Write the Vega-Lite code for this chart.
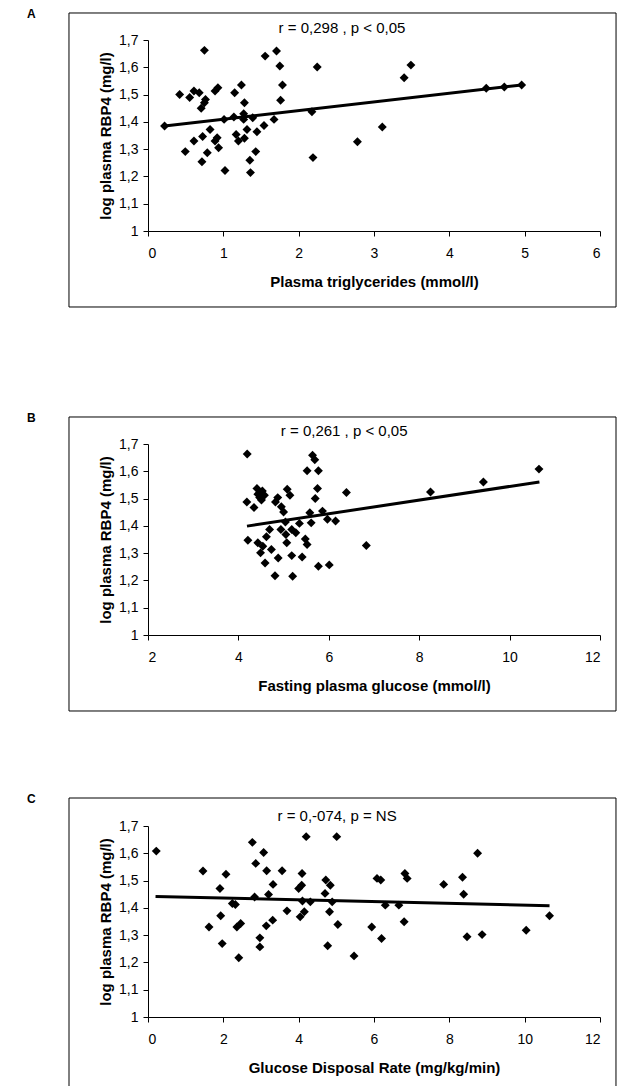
{
  "$schema": "https://vega.github.io/schema/vega-lite/v6.json",
  "background": "white",
  "padding": {"left": 26, "top": 8, "right": 0, "bottom": 0},
  "config": {
    "view": {"stroke": null},
    "axis": {
      "grid": false,
      "domainColor": "#000000",
      "tickColor": "#000000",
      "labelColor": "#000000",
      "titleColor": "#000000",
      "labelFont": "Liberation Sans",
      "labelFontSize": 14,
      "titleFont": "Liberation Sans",
      "titleFontSize": 15,
      "titleFontWeight": "bold",
      "tickSize": 5,
      "domainWidth": 1,
      "tickWidth": 1
    },
    "axisX": {"labelPadding": 10, "titlePadding": 14},
    "axisY": {"labelPadding": 5, "titlePadding": 5},
    "text": {"font": "Liberation Sans", "color": "#000000"}
  },
  "datasets": {
    "triglycerides": [
      {"x": 0.22, "y": 1.385}, {"x": 0.42, "y": 1.5}, {"x": 0.495, "y": 1.291}, {"x": 0.553, "y": 1.489},
      {"x": 0.61, "y": 1.513}, {"x": 0.61, "y": 1.33}, {"x": 0.68, "y": 1.507}, {"x": 0.706, "y": 1.45},
      {"x": 0.716, "y": 1.254}, {"x": 0.725, "y": 1.346}, {"x": 0.749, "y": 1.662}, {"x": 0.749, "y": 1.47},
      {"x": 0.763, "y": 1.482}, {"x": 0.787, "y": 1.287}, {"x": 0.824, "y": 1.372}, {"x": 0.89, "y": 1.513},
      {"x": 0.89, "y": 1.33}, {"x": 0.928, "y": 1.525}, {"x": 0.918, "y": 1.342}, {"x": 0.937, "y": 1.305},
      {"x": 1.022, "y": 1.222}, {"x": 1.01, "y": 1.409}, {"x": 1.15, "y": 1.507}, {"x": 1.14, "y": 1.418},
      {"x": 1.17, "y": 1.354}, {"x": 1.2, "y": 1.33}, {"x": 1.24, "y": 1.535}, {"x": 1.27, "y": 1.43},
      {"x": 1.28, "y": 1.47}, {"x": 1.27, "y": 1.409}, {"x": 1.28, "y": 1.34}, {"x": 1.314, "y": 1.372},
      {"x": 1.352, "y": 1.259}, {"x": 1.36, "y": 1.214}, {"x": 1.39, "y": 1.415}, {"x": 1.43, "y": 1.291},
      {"x": 1.446, "y": 1.364}, {"x": 1.54, "y": 1.387}, {"x": 1.555, "y": 1.641}, {"x": 1.673, "y": 1.409},
      {"x": 1.706, "y": 1.66}, {"x": 1.75, "y": 1.605}, {"x": 1.76, "y": 1.479}, {"x": 1.785, "y": 1.535},
      {"x": 2.176, "y": 1.437}, {"x": 2.19, "y": 1.269}, {"x": 2.246, "y": 1.601}, {"x": 2.78, "y": 1.327},
      {"x": 3.11, "y": 1.381}, {"x": 3.4, "y": 1.562}, {"x": 3.49, "y": 1.608}, {"x": 4.49, "y": 1.523},
      {"x": 4.73, "y": 1.528}, {"x": 4.96, "y": 1.535}
    ],
    "glucose": [
      {"x": 4.195, "y": 1.663}, {"x": 4.187, "y": 1.4875}, {"x": 4.21, "y": 1.3475}, {"x": 4.345, "y": 1.467},
      {"x": 4.41, "y": 1.537}, {"x": 4.43, "y": 1.516}, {"x": 4.43, "y": 1.338}, {"x": 4.47, "y": 1.5035},
      {"x": 4.49, "y": 1.301}, {"x": 4.51, "y": 1.495}, {"x": 4.53, "y": 1.528}, {"x": 4.54, "y": 1.325},
      {"x": 4.575, "y": 1.512}, {"x": 4.59, "y": 1.264}, {"x": 4.62, "y": 1.36}, {"x": 4.69, "y": 1.387},
      {"x": 4.73, "y": 1.313}, {"x": 4.81, "y": 1.217}, {"x": 4.82, "y": 1.4875}, {"x": 4.88, "y": 1.282},
      {"x": 4.87, "y": 1.5035}, {"x": 4.94, "y": 1.387}, {"x": 4.95, "y": 1.47}, {"x": 5.0, "y": 1.451},
      {"x": 5.04, "y": 1.414}, {"x": 5.05, "y": 1.368}, {"x": 5.07, "y": 1.338}, {"x": 5.08, "y": 1.534},
      {"x": 5.14, "y": 1.512}, {"x": 5.18, "y": 1.291}, {"x": 5.18, "y": 1.387}, {"x": 5.2, "y": 1.215},
      {"x": 5.27, "y": 1.375}, {"x": 5.35, "y": 1.409}, {"x": 5.41, "y": 1.286}, {"x": 5.48, "y": 1.352},
      {"x": 5.52, "y": 1.602}, {"x": 5.52, "y": 1.332}, {"x": 5.58, "y": 1.448}, {"x": 5.61, "y": 1.411},
      {"x": 5.64, "y": 1.659}, {"x": 5.69, "y": 1.642}, {"x": 5.7, "y": 1.5}, {"x": 5.75, "y": 1.537},
      {"x": 5.77, "y": 1.602}, {"x": 5.77, "y": 1.252}, {"x": 5.86, "y": 1.454}, {"x": 5.97, "y": 1.424},
      {"x": 6.01, "y": 1.257}, {"x": 6.15, "y": 1.4175}, {"x": 6.39, "y": 1.522}, {"x": 6.83, "y": 1.328},
      {"x": 8.25, "y": 1.524}, {"x": 9.42, "y": 1.561}, {"x": 10.65, "y": 1.608}
    ],
    "gdr": [
      {"x": 0.22, "y": 1.608}, {"x": 1.46, "y": 1.535}, {"x": 1.62, "y": 1.33}, {"x": 1.91, "y": 1.471},
      {"x": 1.93, "y": 1.371}, {"x": 1.97, "y": 1.269}, {"x": 2.07, "y": 1.523}, {"x": 2.24, "y": 1.416},
      {"x": 2.32, "y": 1.412}, {"x": 2.36, "y": 1.33}, {"x": 2.46, "y": 1.343}, {"x": 2.41, "y": 1.217},
      {"x": 2.77, "y": 1.64}, {"x": 2.83, "y": 1.44}, {"x": 2.86, "y": 1.563}, {"x": 2.97, "y": 1.29},
      {"x": 2.97, "y": 1.257}, {"x": 3.07, "y": 1.603}, {"x": 3.14, "y": 1.334}, {"x": 3.15, "y": 1.536},
      {"x": 3.2, "y": 1.449}, {"x": 3.31, "y": 1.355}, {"x": 3.32, "y": 1.486}, {"x": 3.56, "y": 1.536},
      {"x": 3.69, "y": 1.389}, {"x": 4.0, "y": 1.471}, {"x": 4.04, "y": 1.367}, {"x": 4.09, "y": 1.526},
      {"x": 4.08, "y": 1.483}, {"x": 4.1, "y": 1.425}, {"x": 4.15, "y": 1.386}, {"x": 4.2, "y": 1.661},
      {"x": 4.31, "y": 1.422}, {"x": 4.7, "y": 1.453}, {"x": 4.72, "y": 1.502}, {"x": 4.77, "y": 1.261},
      {"x": 4.82, "y": 1.386}, {"x": 4.84, "y": 1.483}, {"x": 4.89, "y": 1.422}, {"x": 5.01, "y": 1.661},
      {"x": 5.04, "y": 1.339}, {"x": 5.47, "y": 1.224}, {"x": 5.94, "y": 1.33}, {"x": 6.08, "y": 1.508},
      {"x": 6.18, "y": 1.502}, {"x": 6.2, "y": 1.288}, {"x": 6.3, "y": 1.41}, {"x": 6.66, "y": 1.41},
      {"x": 6.8, "y": 1.349}, {"x": 6.82, "y": 1.526}, {"x": 6.88, "y": 1.508}, {"x": 7.85, "y": 1.486},
      {"x": 8.35, "y": 1.512}, {"x": 8.38, "y": 1.45}, {"x": 8.47, "y": 1.294}, {"x": 8.75, "y": 1.6},
      {"x": 8.87, "y": 1.302}, {"x": 10.04, "y": 1.318}, {"x": 10.66, "y": 1.371}
    ],
    "trendA": [{"x": 0.22, "y": 1.385}, {"x": 4.96, "y": 1.535}],
    "trendB": [{"x": 4.19, "y": 1.399}, {"x": 10.66, "y": 1.561}],
    "trendC": [{"x": 0.2, "y": 1.442}, {"x": 10.66, "y": 1.408}]
  },
  "bounds": "flush",
  "spacing": 213,
  "vconcat": [
    {
      "width": 452,
      "height": 191,
      "layer": [
        {
          "data": {"name": "triglycerides"},
          "mark": {"type": "point", "shape": "diamond", "filled": true, "color": "#000000", "size": 80, "opacity": 1},
          "encoding": {
            "x": {"field": "x", "type": "quantitative", "scale": {"domain": [0, 6], "nice": false, "zero": false},
              "axis": {"values": [0, 1, 2, 3, 4, 5, 6], "format": "~f", "title": "Plasma triglycerides (mmol/l)"}},
            "y": {"field": "y", "type": "quantitative", "scale": {"domain": [1, 1.7], "nice": false, "zero": false},
              "axis": {"values": [1, 1.1, 1.2, 1.3, 1.4, 1.5, 1.6, 1.7], "format": ".1~f", "labelExpr": "replace(datum.label, '.', ',')", "title": "log plasma RBP4 (mg/l)"}}
          }
        },
        {
          "data": {"values": [{}]},
          "mark": {"type": "rect", "filled": false, "stroke": "#000000", "strokeWidth": 1},
          "encoding": {
            "x": {"datum": -1.049, "type": "quantitative", "scale": {"domain": [0, 6], "nice": false, "zero": false},
              "axis": {"values": [0, 1, 2, 3, 4, 5, 6], "format": "~f", "title": "Plasma triglycerides (mmol/l)"}},
            "x2": {"datum": 6.213},
            "y": {"datum": 1.799, "type": "quantitative", "scale": {"domain": [1, 1.7], "nice": false, "zero": false},
              "axis": {"values": [1, 1.1, 1.2, 1.3, 1.4, 1.5, 1.6, 1.7], "format": ".1~f", "labelExpr": "replace(datum.label, '.', ',')", "title": "log plasma RBP4 (mg/l)"}},
            "y2": {"datum": 0.7215}
          }
        },
        {
          "data": {"name": "trendA"},
          "mark": {"type": "line", "color": "#000000", "strokeWidth": 3},
          "encoding": {
            "x": {"field": "x", "type": "quantitative", "scale": {"domain": [0, 6], "nice": false, "zero": false},
              "axis": {"values": [0, 1, 2, 3, 4, 5, 6], "format": "~f", "title": "Plasma triglycerides (mmol/l)"}},
            "y": {"field": "y", "type": "quantitative", "scale": {"domain": [1, 1.7], "nice": false, "zero": false},
              "axis": {"values": [1, 1.1, 1.2, 1.3, 1.4, 1.5, 1.6, 1.7], "format": ".1~f", "labelExpr": "replace(datum.label, '.', ',')", "title": "log plasma RBP4 (mg/l)"}}
          }
        },
        {
          "data": {"values": [{}]},
          "mark": {"type": "text", "text": "r = 0,298 , p < 0,05", "fontSize": 15, "align": "center", "baseline": "middle"},
          "encoding": {
            "x": {"datum": 2.575, "type": "quantitative", "scale": {"domain": [0, 6], "nice": false, "zero": false},
              "axis": {"values": [0, 1, 2, 3, 4, 5, 6], "format": "~f", "title": "Plasma triglycerides (mmol/l)"}},
            "y": {"datum": 1.744, "type": "quantitative", "scale": {"domain": [1, 1.7], "nice": false, "zero": false},
              "axis": {"values": [1, 1.1, 1.2, 1.3, 1.4, 1.5, 1.6, 1.7], "format": ".1~f", "labelExpr": "replace(datum.label, '.', ',')", "title": "log plasma RBP4 (mg/l)"}}
          }
        },
        {
          "data": {"values": [{}]},
          "mark": {"type": "text", "text": "A", "fontSize": 12, "fontWeight": "bold", "align": "left", "baseline": "top"},
          "encoding": {
            "x": {"datum": -1.606, "type": "quantitative", "scale": {"domain": [0, 6], "nice": false, "zero": false},
              "axis": {"values": [0, 1, 2, 3, 4, 5, 6], "format": "~f", "title": "Plasma triglycerides (mmol/l)"}},
            "y": {"datum": 1.8136, "type": "quantitative", "scale": {"domain": [1, 1.7], "nice": false, "zero": false},
              "axis": {"values": [1, 1.1, 1.2, 1.3, 1.4, 1.5, 1.6, 1.7], "format": ".1~f", "labelExpr": "replace(datum.label, '.', ',')", "title": "log plasma RBP4 (mg/l)"}}
          }
        }
      ]
    },
    {
      "bounds": "flush",
      "spacing": 191,
      "vconcat": [
        {
          "width": 452,
          "height": 191,
          "layer": [
            {
              "data": {"name": "glucose"},
              "mark": {"type": "point", "shape": "diamond", "filled": true, "color": "#000000", "size": 80, "opacity": 1},
              "encoding": {
                "x": {"field": "x", "type": "quantitative", "scale": {"domain": [2, 12], "nice": false, "zero": false},
                  "axis": {"values": [2, 4, 6, 8, 10, 12], "format": "~f", "title": "Fasting plasma glucose (mmol/l)"}},
                "y": {"field": "y", "type": "quantitative", "scale": {"domain": [1, 1.7], "nice": false, "zero": false},
                  "axis": {"values": [1, 1.1, 1.2, 1.3, 1.4, 1.5, 1.6, 1.7], "format": ".1~f", "labelExpr": "replace(datum.label, '.', ',')", "title": "log plasma RBP4 (mg/l)"}}
              }
            },
            {
              "data": {"values": [{}]},
              "mark": {"type": "rect", "filled": false, "stroke": "#000000", "strokeWidth": 1},
              "encoding": {
                "x": {"datum": 0.252, "type": "quantitative", "scale": {"domain": [2, 12], "nice": false, "zero": false},
                  "axis": {"values": [2, 4, 6, 8, 10, 12], "format": "~f", "title": "Fasting plasma glucose (mmol/l)"}},
                "x2": {"datum": 12.354},
                "y": {"datum": 1.799, "type": "quantitative", "scale": {"domain": [1, 1.7], "nice": false, "zero": false},
                  "axis": {"values": [1, 1.1, 1.2, 1.3, 1.4, 1.5, 1.6, 1.7], "format": ".1~f", "labelExpr": "replace(datum.label, '.', ',')", "title": "log plasma RBP4 (mg/l)"}},
                "y2": {"datum": 0.7215}
              }
            },
            {
              "data": {"name": "trendB"},
              "mark": {"type": "line", "color": "#000000", "strokeWidth": 3},
              "encoding": {
                "x": {"field": "x", "type": "quantitative", "scale": {"domain": [2, 12], "nice": false, "zero": false},
                  "axis": {"values": [2, 4, 6, 8, 10, 12], "format": "~f", "title": "Fasting plasma glucose (mmol/l)"}},
                "y": {"field": "y", "type": "quantitative", "scale": {"domain": [1, 1.7], "nice": false, "zero": false},
                  "axis": {"values": [1, 1.1, 1.2, 1.3, 1.4, 1.5, 1.6, 1.7], "format": ".1~f", "labelExpr": "replace(datum.label, '.', ',')", "title": "log plasma RBP4 (mg/l)"}}
              }
            },
            {
              "data": {"values": [{}]},
              "mark": {"type": "text", "text": "r = 0,261 , p < 0,05", "fontSize": 15, "align": "center", "baseline": "middle"},
              "encoding": {
                "x": {"datum": 6.34, "type": "quantitative", "scale": {"domain": [2, 12], "nice": false, "zero": false},
                  "axis": {"values": [2, 4, 6, 8, 10, 12], "format": "~f", "title": "Fasting plasma glucose (mmol/l)"}},
                "y": {"datum": 1.748, "type": "quantitative", "scale": {"domain": [1, 1.7], "nice": false, "zero": false},
                  "axis": {"values": [1, 1.1, 1.2, 1.3, 1.4, 1.5, 1.6, 1.7], "format": ".1~f", "labelExpr": "replace(datum.label, '.', ',')", "title": "log plasma RBP4 (mg/l)"}}
              }
            },
            {
              "data": {"values": [{}]},
              "mark": {"type": "text", "text": "B", "fontSize": 12, "fontWeight": "bold", "align": "left", "baseline": "top"},
              "encoding": {
                "x": {"datum": -0.677, "type": "quantitative", "scale": {"domain": [2, 12], "nice": false, "zero": false},
                  "axis": {"values": [2, 4, 6, 8, 10, 12], "format": "~f", "title": "Fasting plasma glucose (mmol/l)"}},
                "y": {"datum": 1.8136, "type": "quantitative", "scale": {"domain": [1, 1.7], "nice": false, "zero": false},
                  "axis": {"values": [1, 1.1, 1.2, 1.3, 1.4, 1.5, 1.6, 1.7], "format": ".1~f", "labelExpr": "replace(datum.label, '.', ',')", "title": "log plasma RBP4 (mg/l)"}}
              }
            }
          ]
        },
        {
          "width": 452,
          "height": 191,
          "layer": [
            {
              "data": {"name": "gdr"},
              "mark": {"type": "point", "shape": "diamond", "filled": true, "color": "#000000", "size": 80, "opacity": 1},
              "encoding": {
                "x": {"field": "x", "type": "quantitative", "scale": {"domain": [0, 12], "nice": false, "zero": false},
                  "axis": {"values": [0, 2, 4, 6, 8, 10, 12], "format": "~f", "title": "Glucose Disposal Rate (mg/kg/min)"}},
                "y": {"field": "y", "type": "quantitative", "scale": {"domain": [1, 1.7], "nice": false, "zero": false},
                  "axis": {"values": [1, 1.1, 1.2, 1.3, 1.4, 1.5, 1.6, 1.7], "format": ".1~f", "labelExpr": "replace(datum.label, '.', ',')", "title": "log plasma RBP4 (mg/l)"}}
              }
            },
            {
              "data": {"values": [{}]},
              "mark": {"type": "rule", "color": "#000000", "strokeWidth": 1},
              "encoding": {
                "x": {"datum": -2.097, "type": "quantitative", "scale": {"domain": [0, 12], "nice": false, "zero": false},
                  "axis": {"values": [0, 2, 4, 6, 8, 10, 12], "format": "~f", "title": "Glucose Disposal Rate (mg/kg/min)"}},
                "x2": {"datum": 12.424},
                "y": {"datum": 1.8026, "type": "quantitative", "scale": {"domain": [1, 1.7], "nice": false, "zero": false},
                  "axis": {"values": [1, 1.1, 1.2, 1.3, 1.4, 1.5, 1.6, 1.7], "format": ".1~f", "labelExpr": "replace(datum.label, '.', ',')", "title": "log plasma RBP4 (mg/l)"}}
              }
            },
            {
              "data": {"values": [{}]},
              "mark": {"type": "rule", "color": "#000000", "strokeWidth": 1},
              "encoding": {
                "x": {"datum": -2.097, "type": "quantitative", "scale": {"domain": [0, 12], "nice": false, "zero": false},
                  "axis": {"values": [0, 2, 4, 6, 8, 10, 12], "format": "~f", "title": "Glucose Disposal Rate (mg/kg/min)"}},
                "y": {"datum": 1.8026, "type": "quantitative", "scale": {"domain": [1, 1.7], "nice": false, "zero": false},
                  "axis": {"values": [1, 1.1, 1.2, 1.3, 1.4, 1.5, 1.6, 1.7], "format": ".1~f", "labelExpr": "replace(datum.label, '.', ',')", "title": "log plasma RBP4 (mg/l)"}},
                "y2": {"datum": 0.7471}
              }
            },
            {
              "data": {"values": [{}]},
              "mark": {"type": "rule", "color": "#000000", "strokeWidth": 1},
              "encoding": {
                "x": {"datum": 12.424, "type": "quantitative", "scale": {"domain": [0, 12], "nice": false, "zero": false},
                  "axis": {"values": [0, 2, 4, 6, 8, 10, 12], "format": "~f", "title": "Glucose Disposal Rate (mg/kg/min)"}},
                "y": {"datum": 1.8026, "type": "quantitative", "scale": {"domain": [1, 1.7], "nice": false, "zero": false},
                  "axis": {"values": [1, 1.1, 1.2, 1.3, 1.4, 1.5, 1.6, 1.7], "format": ".1~f", "labelExpr": "replace(datum.label, '.', ',')", "title": "log plasma RBP4 (mg/l)"}},
                "y2": {"datum": 0.7471}
              }
            },
            {
              "data": {"name": "trendC"},
              "mark": {"type": "line", "color": "#000000", "strokeWidth": 3},
              "encoding": {
                "x": {"field": "x", "type": "quantitative", "scale": {"domain": [0, 12], "nice": false, "zero": false},
                  "axis": {"values": [0, 2, 4, 6, 8, 10, 12], "format": "~f", "title": "Glucose Disposal Rate (mg/kg/min)"}},
                "y": {"field": "y", "type": "quantitative", "scale": {"domain": [1, 1.7], "nice": false, "zero": false},
                  "axis": {"values": [1, 1.1, 1.2, 1.3, 1.4, 1.5, 1.6, 1.7], "format": ".1~f", "labelExpr": "replace(datum.label, '.', ',')", "title": "log plasma RBP4 (mg/l)"}}
              }
            },
            {
              "data": {"values": [{}]},
              "mark": {"type": "text", "text": "r = 0,-074, p = NS", "fontSize": 15, "align": "center", "baseline": "middle"},
              "encoding": {
                "x": {"datum": 5.02, "type": "quantitative", "scale": {"domain": [0, 12], "nice": false, "zero": false},
                  "axis": {"values": [0, 2, 4, 6, 8, 10, 12], "format": "~f", "title": "Glucose Disposal Rate (mg/kg/min)"}},
                "y": {"datum": 1.737, "type": "quantitative", "scale": {"domain": [1, 1.7], "nice": false, "zero": false},
                  "axis": {"values": [1, 1.1, 1.2, 1.3, 1.4, 1.5, 1.6, 1.7], "format": ".1~f", "labelExpr": "replace(datum.label, '.', ',')", "title": "log plasma RBP4 (mg/l)"}}
              }
            },
            {
              "data": {"values": [{}]},
              "mark": {"type": "text", "text": "C", "fontSize": 12, "fontWeight": "bold", "align": "left", "baseline": "top"},
              "encoding": {
                "x": {"datum": -3.212, "type": "quantitative", "scale": {"domain": [0, 12], "nice": false, "zero": false},
                  "axis": {"values": [0, 2, 4, 6, 8, 10, 12], "format": "~f", "title": "Glucose Disposal Rate (mg/kg/min)"}},
                "y": {"datum": 1.8172, "type": "quantitative", "scale": {"domain": [1, 1.7], "nice": false, "zero": false},
                  "axis": {"values": [1, 1.1, 1.2, 1.3, 1.4, 1.5, 1.6, 1.7], "format": ".1~f", "labelExpr": "replace(datum.label, '.', ',')", "title": "log plasma RBP4 (mg/l)"}}
              }
            }
          ]
        }
      ]
    }
  ]
}
